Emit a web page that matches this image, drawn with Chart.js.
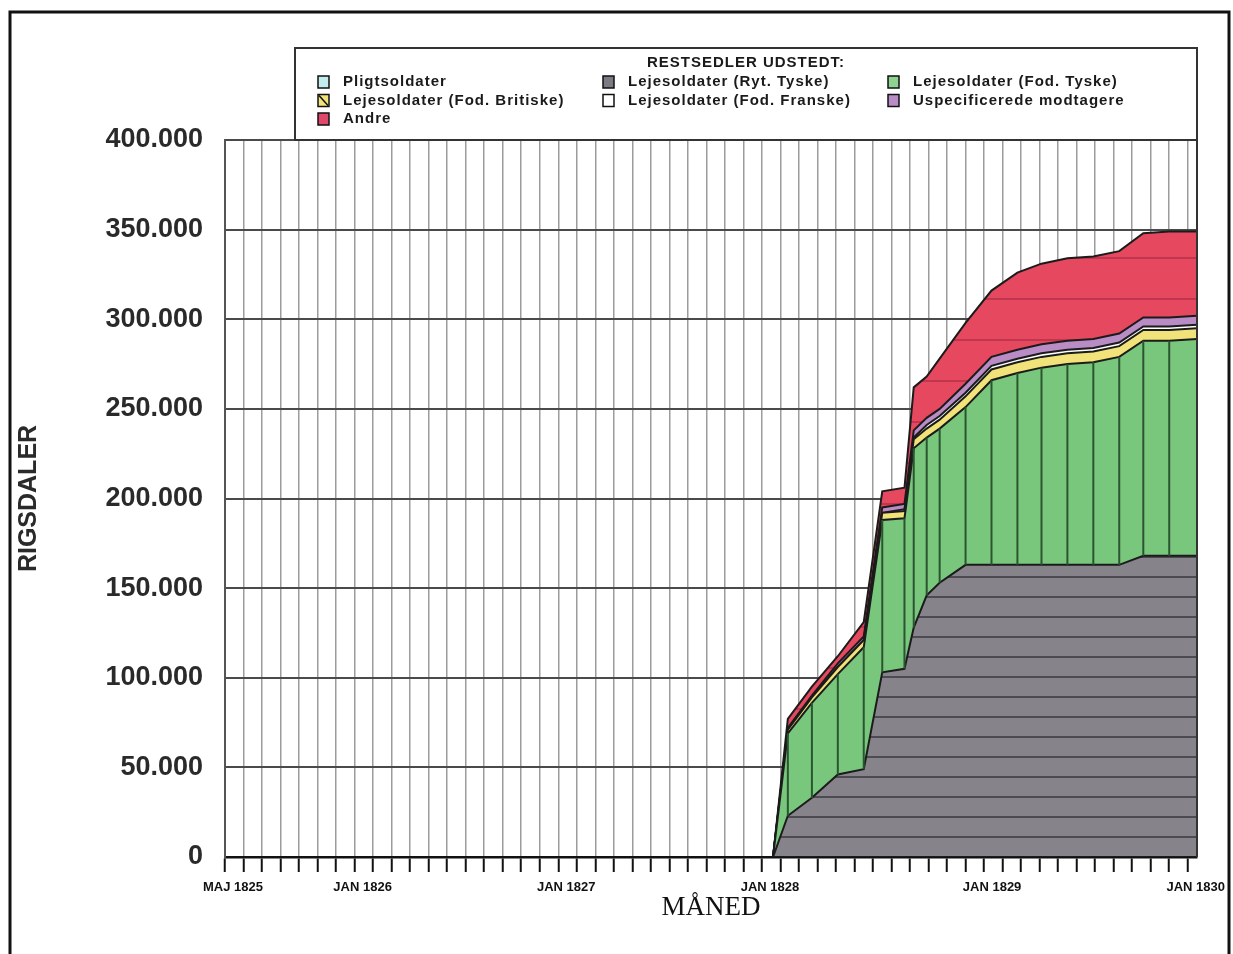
<!DOCTYPE html>
<html>
<head>
<meta charset="utf-8">
<title>Restsedler udstedt</title>
<script src="https://cdn.jsdelivr.net/npm/chart.js@4.4.1/dist/chart.umd.min.js"></script>
<style>
  html, body { margin: 0; padding: 0; background: #fff; overflow: hidden; }
  canvas { display: block; }
</style>
</head>
<body>
<canvas id="chart" width="1233" height="954"></canvas>
<script>
// ===== Data =====
// position of each reading along the month axis, in grid steps from MAJ 1825
const xPos = [29.6, 30.4, 31.7, 33.1, 34.5, 35.5, 36.7, 37.2, 37.9, 38.6, 40.0, 41.4, 42.8, 44.1, 45.5, 46.9, 48.3, 49.6, 51.0, 52.5];

// rigsdaler per group (stacked from bottom to top)
const pligtsoldater = [0, 0, 0, 0, 0, 0, 0, 0, 0, 0, 0, 0, 0, 0, 0, 0, 0, 0, 0, 0];
const rytTyske      = [0, 23000, 33000, 46000, 49000, 103000, 105000, 128000, 146000, 153000, 163000, 163000, 163000, 163000, 163000, 163000, 163000, 168000, 168000, 168000];
const fodTyske      = [0, 46000, 53000, 56000, 68000, 85000, 84000, 100000, 88000, 86000, 88000, 103000, 107000, 110000, 112000, 113000, 116000, 120000, 120000, 121000];
const fodBritiske   = [0, 2000, 3000, 4000, 4000, 4000, 4000, 5000, 5000, 5000, 6000, 6000, 6000, 6000, 6000, 6000, 6000, 6000, 6000, 6000];
const fodFranske    = [0, 0, 0, 0, 0, 0, 1000, 1000, 2000, 2000, 2000, 2000, 2000, 2000, 2000, 2000, 2000, 2000, 2000, 2000];
const uspecificeret = [0, 1000, 1000, 2000, 2000, 3000, 3000, 4000, 4000, 4000, 5000, 5000, 5000, 5000, 5000, 5000, 5000, 5000, 5000, 5000];
const andre         = [0, 5000, 5000, 4000, 8000, 9000, 9000, 24000, 23000, 28000, 34000, 37000, 43000, 45000, 46000, 46000, 46000, 47000, 48000, 47000];

// x-axis labels and where they sit
const tickPos = [0, 7, 18, 29, 41, 52];
const tickLabels = ["MAJ 1825", "JAN 1826", "JAN 1827", "JAN 1828", "JAN 1829", "JAN 1830"];

const seriesNames = [
  "Pligtsoldater",
  "Lejesoldater (Ryt. Tyske)",
  "Lejesoldater (Fod. Tyske)",
  "Lejesoldater (Fod. Britiske)",
  "Lejesoldater (Fod. Franske)",
  "Uspecificerede modtagere",
  "Andre"
];

// ===== Mønstre (stribede udfyldninger) =====
const canvas = document.getElementById("chart");
const ctx = canvas.getContext("2d");

function stripes(base, line, w, h, at, lw) {
  const c = document.createElement("canvas");
  c.width = w; c.height = h;
  const g = c.getContext("2d");
  g.fillStyle = base;
  g.fillRect(0, 0, w, h);
  g.strokeStyle = line;
  g.lineWidth = lw;
  g.beginPath();
  g.moveTo(0, at);
  g.lineTo(w, at);
  g.stroke();
  return ctx.createPattern(c, "repeat");
}

const grayFill = stripes("#86838b", "#4c4a52", 8, 20, 17, 2);
const redFill = stripes("#e6495f", "#b3314a", 8, 41, 12, 1.5);

const FONT = '"Liberation Sans", Arial, sans-serif';

function dataset(i, values, fill, legendColor) {
  return {
    label: seriesNames[i],
    data: values.map((v, k) => ({ x: xPos[k], y: v })),
    backgroundColor: fill,
    legendColor: legendColor,
    borderColor: "#1b1b1b",
    borderWidth: 2,
    pointRadius: 0,
    tension: 0,
    fill: i === 0 ? "origin" : "-1"
  };
}

// ===== Plugins =====
// outer frame and right edge of plot
const framePlugin = {
  id: "frame",
  afterDraw(chart) {
    const { ctx, chartArea } = chart;
    ctx.save();
    ctx.strokeStyle = "#111";
    ctx.lineWidth = 3;
    ctx.strokeRect(10, 12, 1219, 960);
    ctx.strokeStyle = "#333";
    ctx.lineWidth = 2;
    ctx.beginPath();
    ctx.moveTo(chartArea.right, chartArea.top);
    ctx.lineTo(chartArea.right, chartArea.bottom);
    ctx.stroke();
    ctx.restore();
  }
};

// drop lines at each reading inside the green band
const dropLines = {
  id: "dropLines",
  afterDatasetsDraw(chart) {
    const { ctx } = chart;
    const top = chart.getDatasetMeta(2).data;
    const base = chart.getDatasetMeta(1).data;
    ctx.save();
    ctx.strokeStyle = "#2b5530";
    ctx.lineWidth = 2;
    top.forEach((p, k) => {
      if (fodTyske[k] <= 0) return;
      ctx.beginPath();
      ctx.moveTo(p.x, p.y);
      ctx.lineTo(p.x, base[k].y);
      ctx.stroke();
    });
    ctx.restore();
  }
};

// boxed legend, three columns
const boxLegend = {
  id: "boxLegend",
  afterDraw(chart) {
    const { ctx, chartArea } = chart;
    const left = 295, top = 48, right = chartArea.right, bottom = chartArea.top;
    ctx.save();
    ctx.strokeStyle = "#333";
    ctx.lineWidth = 2;
    ctx.strokeRect(left, top, right - left, bottom - top);

    ctx.fillStyle = "#1a1a1a";
    ctx.font = "bold 15px " + FONT;
    ctx.letterSpacing = "1px";
    ctx.textBaseline = "middle";
    ctx.textAlign = "center";
    ctx.fillText("RESTSEDLER UDSTEDT:", (left + right) / 2, 63);

    ctx.textAlign = "left";
    chart.data.datasets.forEach((ds, i) => {
      const x = left + 23 + (i % 3) * 285;
      const y = 82 + Math.floor(i / 3) * 18.5;
      ctx.fillStyle = ds.legendColor;
      ctx.fillRect(x, y - 6, 11, 12);
      ctx.strokeStyle = "#111";
      ctx.lineWidth = 1.5;
      ctx.strokeRect(x, y - 6, 11, 12);
      if (i === 3) {
        ctx.beginPath();
        ctx.moveTo(x + 1, y - 5);
        ctx.lineTo(x + 10, y + 5);
        ctx.stroke();
      }
      ctx.fillStyle = "#1a1a1a";
      ctx.fillText(ds.label, x + 25, y);
    });
    ctx.restore();
  }
};

// ===== Chart =====
new Chart(ctx, {
  type: "line",
  data: {
    datasets: [
      dataset(0, pligtsoldater, "#c3ecee", "#c3ecee"),
      dataset(1, rytTyske, grayFill, "#7c7a82"),
      dataset(2, fodTyske, "#79c77c", "#8fd392"),
      dataset(3, fodBritiske, "#f2e27a", "#f2e27a"),
      dataset(4, fodFranske, "#ffffff", "#ffffff"),
      dataset(5, uspecificeret, "#b98cc6", "#b98cc6"),
      dataset(6, andre, redFill, "#e0486a")
    ]
  },
  options: {
    responsive: false,
    animation: false,
    layout: { padding: { top: 140, right: 36, bottom: 0, left: 0 } },
    plugins: {
      legend: { display: false },
      tooltip: { enabled: false }
    },
    scales: {
      x: {
        type: "linear",
        min: 0,
        max: 52.5,
        afterBuildTicks: (scale) => {
          const t = [];
          for (let v = 0; v <= 52; v++) t.push({ value: v });
          scale.ticks = t;
        },
        afterFit: (scale) => { scale.height = 97; },
        grid: {
          color: "#9c9c9c",
          lineWidth: 1.5,
          tickColor: "#111",
          tickWidth: 2,
          tickLength: 15
        },
        border: { color: "#111", width: 2.5 },
        ticks: {
          autoSkip: false,
          maxRotation: 0,
          padding: 8,
          labelOffset: 8,
          color: "#111",
          font: { family: FONT, size: 13, weight: "bold" },
          callback: (value) => {
            const k = tickPos.indexOf(value);
            return k >= 0 ? tickLabels[k] : "";
          }
        },
        title: {
          display: true,
          text: "MÅNED",
          color: "#111",
          font: { family: '"Liberation Serif", "DejaVu Serif", serif', size: 27 },
          padding: { top: 0, bottom: 30 }
        }
      },
      y: {
        stacked: true,
        min: 0,
        max: 400000,
        afterFit: (scale) => { scale.width = 225; },
        grid: { color: "#4a4a4a", lineWidth: 2, drawTicks: false },
        border: { color: "#555", width: 2 },
        ticks: {
          stepSize: 50000,
          padding: 22,
          color: "#2a2a2a",
          font: { family: FONT, size: 27, weight: "bold" },
          callback: (v) => String(v).replace(/\B(?=(\d{3})+(?!\d))/g, ".")
        },
        title: {
          display: true,
          text: "RIGSDALER",
          color: "#2a2a2a",
          font: { family: FONT, size: 25, weight: "bold" },
          padding: { top: 14, bottom: 0 }
        }
      }
    }
  },
  plugins: [dropLines, boxLegend, framePlugin]
});
</script>
</body>
</html>
